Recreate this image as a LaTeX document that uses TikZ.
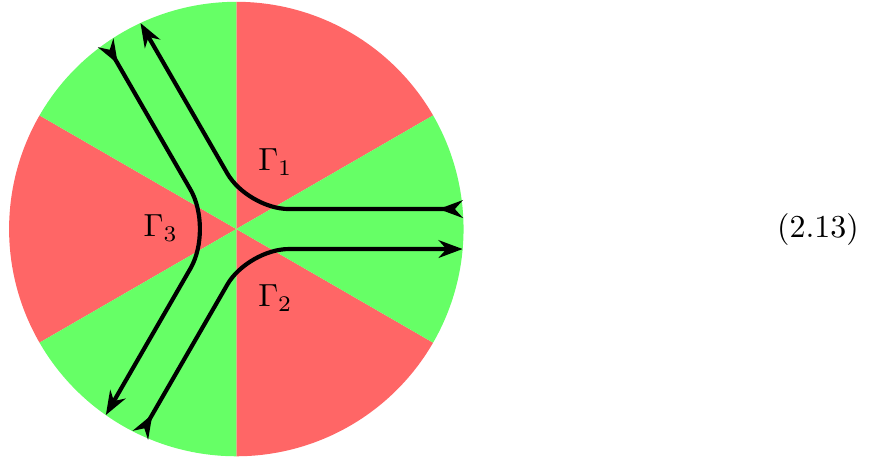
\documentclass[tikz,border=0pt]{standalone}
\usepackage{amsmath,amssymb}
\usetikzlibrary{arrows.meta}
\begin{document}
\begin{tikzpicture}[
    tp/.tip={Stealth[length=7.5pt,width=5.5pt]},
    ct/.style={line width=1.3pt,rounded corners=0.45cm},
    lb/.style={inner sep=0pt}]
  \useasboundingbox (-2.6,-2.51) rectangle (7.17,2.52);
  \foreach \a in {30,150,270}
    \fill[red!60] (0,0) -- (\a:2.5) arc[start angle=\a,delta angle=60,radius=2.5] -- cycle;
  \foreach \a in {90,210,330}
    \fill[green!60] (0,0) -- (\a:2.5) arc[start angle=\a,delta angle=60,radius=2.5] -- cycle;

  \coordinate (g1a) at ([shift={(90:0.22)}]0:2.49);
  \coordinate (g1b) at (60:0.254);
  \coordinate (g1c) at ([shift={(30:0.22)}]120:2.49);
  \coordinate (g2a) at ([shift={(330:0.22)}]240:2.49);
  \coordinate (g2b) at (300:0.254);
  \coordinate (g2c) at ([shift={(270:0.22)}]0:2.49);
  \coordinate (g3a) at ([shift={(210:0.22)}]120:2.49);
  \coordinate (g3b) at (180:0.254);
  \coordinate (g3c) at ([shift={(150:0.22)}]240:2.49);

  \draw[ct,{tp[reversed]}-{tp}] (g1a) -- (g1b) -- (g1c);
  \draw[ct,{tp[reversed]}-{tp}] (g2a) -- (g2b) -- (g2c);
  \draw[ct,rounded corners=0.5cm,{tp[reversed]}-{tp}] (g3a) -- (g3b) -- (g3c);

  \node[lb] (l1) at (0.43,0.74) {$\Gamma_1$};
  \node[lb] (l2) at (0.43,-0.76) {$\Gamma_2$};
  \node[lb] (l3) at (-0.83,0.01) {$\Gamma_3$};
  \node (eq) at (6.4,0) {(2.13)};
\end{tikzpicture}
\end{document}
